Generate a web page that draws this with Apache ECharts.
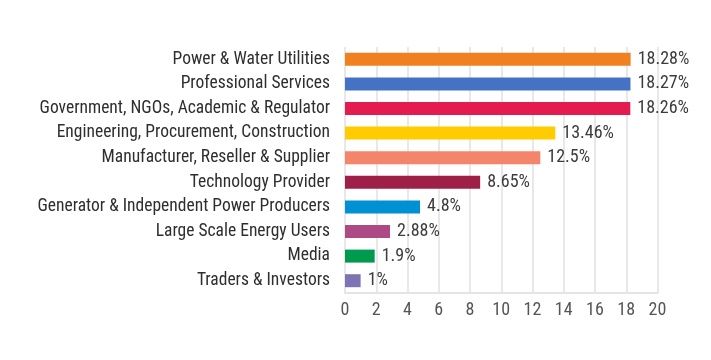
<!DOCTYPE html>
<html><head><meta charset="utf-8">
<script src="https://cdn.jsdelivr.net/npm/echarts@6/dist/echarts.min.js"></script>
<style>html,body{margin:0;padding:0;background:#fff}#c{width:711px;height:360px}</style>
</head><body><div id="c"></div>
<script>
const categories = ["Power & Water Utilities","Professional Services","Government, NGOs, Academic & Regulator","Engineering, Procurement, Construction","Manufacturer, Reseller & Supplier","Technology Provider","Generator & Independent Power Producers","Large Scale Energy Users","Media","Traders & Investors"];
const values = [18.28,18.27,18.26,13.46,12.5,8.65,4.8,2.88,1.9,1];
const colors = ["#F08020","#4472C4","#E31B4E","#FFCC00","#F4846A","#9E1F47","#0090D4","#AD4A85","#009A4E","#7E74B4"];
const tickValues = [0,2,4,6,8,10,12,14,16,18,20];
const FONT = '"Roboto Condensed","DejaVu Sans Condensed",sans-serif';
const chart = echarts.init(document.getElementById('c'));
chart.setOption({
  animation:false,
  grid:{left:345,right:53.5,top:47,bottom:67,containLabel:false},
  xAxis:{type:'value',min:tickValues[0],max:tickValues[tickValues.length-1],interval:2,
    axisLine:{show:true,lineStyle:{color:'#e4e4e4',width:2}},axisTick:{show:false},
    splitLine:{show:true,lineStyle:{color:'#e8e8e8',width:2}},
    axisLabel:{color:'#555',fontFamily:FONT,fontSize:18,margin:8}},
  yAxis:{type:'category',inverse:true,data:categories,
    axisLine:{show:false},axisTick:{show:false},
    axisLabel:{color:'#2e2e2e',fontFamily:FONT,fontSize:17.5,margin:15}},
  series:[{type:'bar',barWidth:13,
    data:values.map((v,i)=>({value:v,itemStyle:{color:colors[i]}})),
    label:{show:true,position:'right',distance:7,color:'#3c3c3c',fontFamily:FONT,fontSize:18,formatter:p=>p.value+'%'}}]
});
</script></body></html>
